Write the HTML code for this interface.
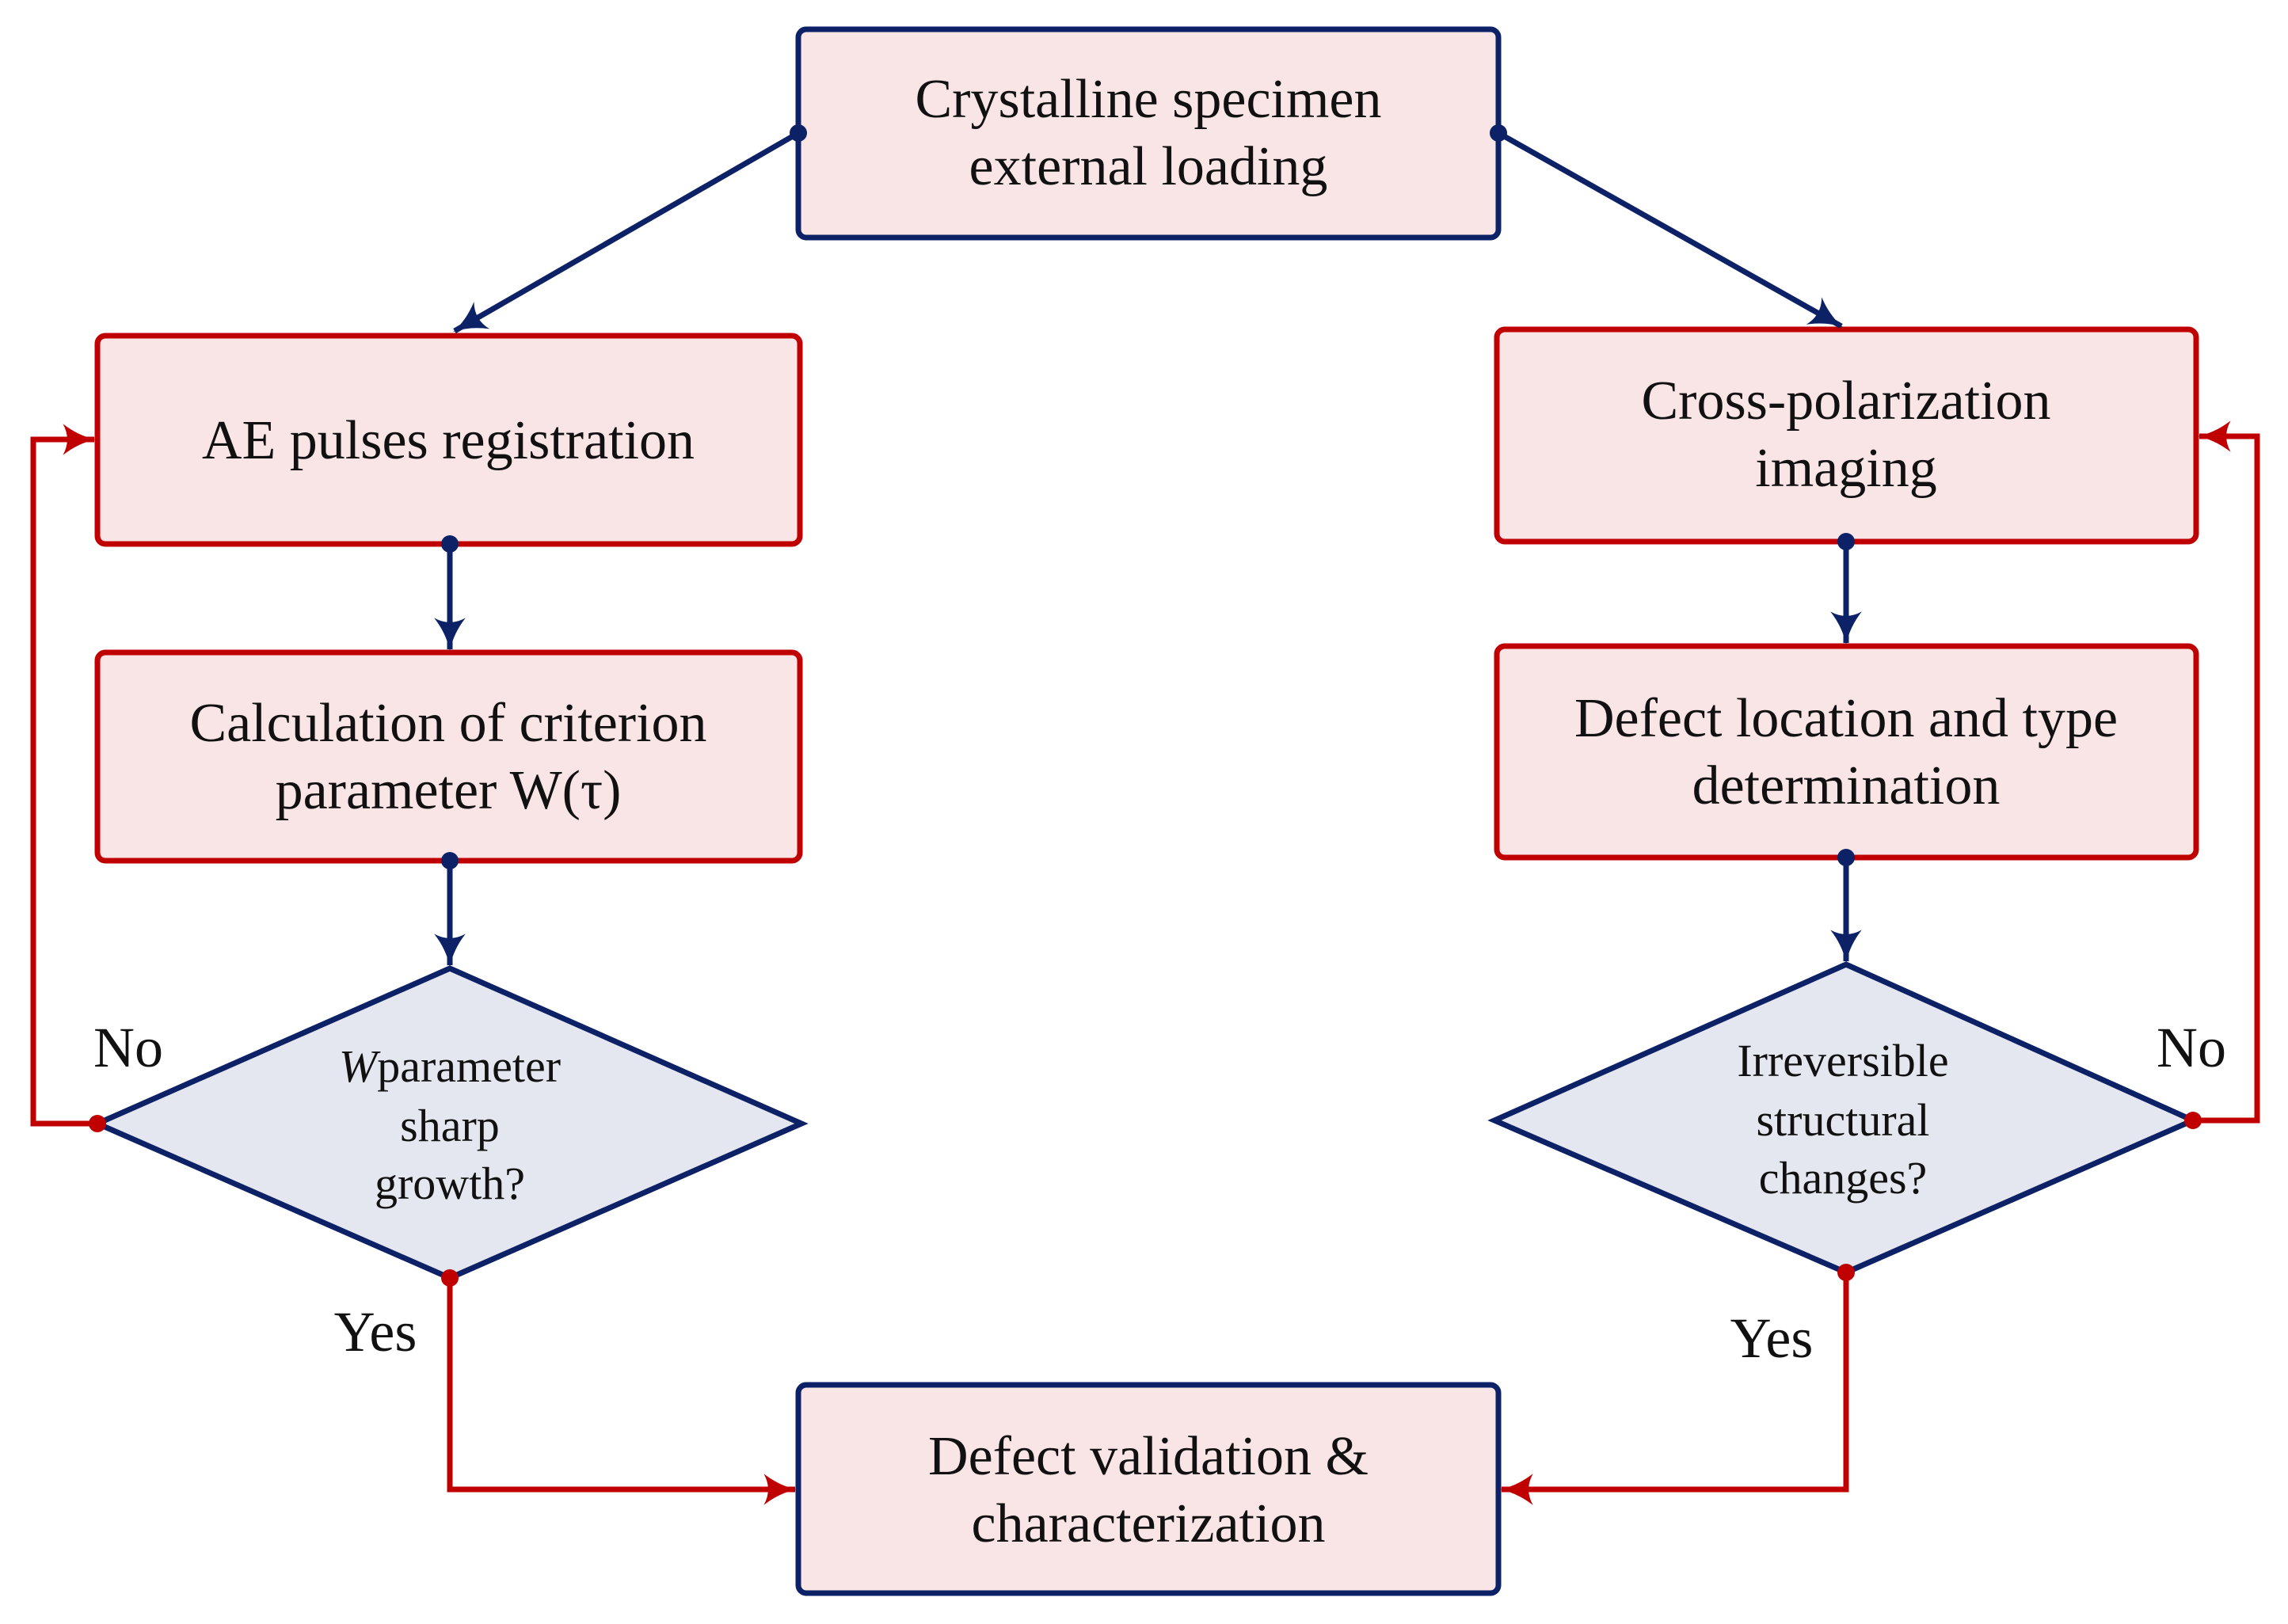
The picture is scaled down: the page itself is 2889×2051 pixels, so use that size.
<!DOCTYPE html>
<html><head><meta charset="utf-8"><style>
html,body{margin:0;padding:0;background:#fff}
svg{display:block}
text{font-family:"Liberation Serif",serif;fill:#111}
</style></head><body>
<svg width="2889" height="2051" viewBox="0 0 2889 2051" xmlns="http://www.w3.org/2000/svg">
<defs>
<marker id="ab" viewBox="0 0 40 40" refX="38" refY="20" markerWidth="44" markerHeight="44" markerUnits="userSpaceOnUse" orient="auto">
<path d="M2,2 Q20,16 40,20 Q20,24 2,38 Q12,20 2,2Z" fill="#0d2266"/></marker>
<marker id="ar" viewBox="0 0 40 40" refX="38" refY="20" markerWidth="44" markerHeight="44" markerUnits="userSpaceOnUse" orient="auto">
<path d="M2,2 Q20,16 40,20 Q20,24 2,38 Q12,20 2,2Z" fill="#c00000"/></marker>
</defs>
<g stroke-width="7">
<rect x="1008" y="37" width="884" height="263" rx="10" fill="#f9e4e6" stroke="#0d2266"/>
<rect x="123" y="424" width="887" height="263" rx="10" fill="#f9e4e6" stroke="#c00000"/>
<rect x="123" y="824" width="887" height="263" rx="10" fill="#f9e4e6" stroke="#c00000"/>
<rect x="1890" y="416" width="883" height="268" rx="10" fill="#f9e4e6" stroke="#c00000"/>
<rect x="1890" y="816" width="883" height="267" rx="10" fill="#f9e4e6" stroke="#c00000"/>
<rect x="1008" y="1749" width="884" height="263" rx="10" fill="#f9e4e6" stroke="#0d2266"/>
<polygon points="568,1223 1012,1419 568,1614 123,1419" fill="#e4e7f0" stroke="#0d2266"/>
<polygon points="2331,1218 2769,1415 2331,1607 1887,1415" fill="#e4e7f0" stroke="#0d2266"/>
<g stroke="#0d2266" fill="none">
<line x1="1008" y1="168" x2="574" y2="418" marker-end="url(#ab)"/>
<line x1="1892" y1="168" x2="2325" y2="412" marker-end="url(#ab)"/>
<line x1="568" y1="687" x2="568" y2="820" marker-end="url(#ab)"/>
<line x1="568" y1="1087" x2="568" y2="1219" marker-end="url(#ab)"/>
<line x1="2331" y1="684" x2="2331" y2="812" marker-end="url(#ab)"/>
<line x1="2331" y1="1083" x2="2331" y2="1214" marker-end="url(#ab)"/>
</g>
<g stroke="#c00000" fill="none">
<polyline points="123,1419 42,1419 42,555 119,555" marker-end="url(#ar)"/>
<polyline points="2769,1415 2850,1415 2850,551 2777,551" marker-end="url(#ar)"/>
<polyline points="568,1614 568,1881 1004,1881" marker-end="url(#ar)"/>
<polyline points="2331,1607 2331,1881 1896,1881" marker-end="url(#ar)"/>
</g>
</g>
<g fill="#0d2266">
<circle cx="1008" cy="168" r="11"/><circle cx="1892" cy="168" r="11"/>
<circle cx="568" cy="687" r="11"/><circle cx="568" cy="1087" r="11"/>
<circle cx="2331" cy="684" r="11"/><circle cx="2331" cy="1083" r="11"/>
</g>
<g fill="#c00000">
<circle cx="123" cy="1419" r="11"/><circle cx="568" cy="1614" r="11"/>
<circle cx="2769" cy="1415" r="11"/><circle cx="2331" cy="1607" r="11"/>
</g>
<g font-size="70" text-anchor="middle">
<text x="1450" y="148">Crystalline specimen</text>
<text x="1450" y="233">external loading</text>
<text x="566" y="579">AE pulses registration</text>
<text x="566" y="936">Calculation of criterion</text>
<text x="566" y="1021">parameter W(τ)</text>
<text x="2331" y="529">Cross-polarization</text>
<text x="2331" y="614">imaging</text>
<text x="2331" y="930">Defect location and type</text>
<text x="2331" y="1015">determination</text>
<text x="1450" y="1862">Defect validation &amp;</text>
<text x="1450" y="1947">characterization</text>
</g>
<g font-size="58" text-anchor="middle">
<text x="568" y="1366"><tspan font-style="italic">W</tspan>parameter</text>
<text x="568" y="1441">sharp</text>
<text x="568" y="1514">growth?</text>
<text x="2327" y="1359">Irreversible</text>
<text x="2327" y="1434">structural</text>
<text x="2327" y="1507">changes?</text>
</g>
<g font-size="72" text-anchor="middle">
<text x="162" y="1347">No</text>
<text x="474" y="1706">Yes</text>
<text x="2767" y="1347">No</text>
<text x="2237" y="1714">Yes</text>
</g>
</svg>
</body></html>
